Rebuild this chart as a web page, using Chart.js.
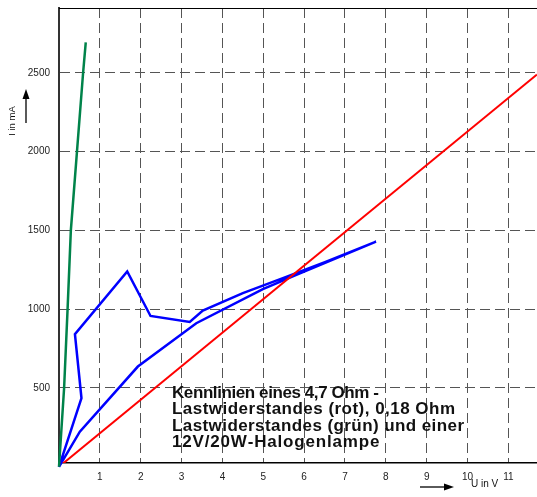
<!DOCTYPE html>
<html>
<head>
<meta charset="utf-8">
<script src="https://cdn.jsdelivr.net/npm/chart.js@4/dist/chart.umd.min.js"></script>
<style>
  html, body { margin: 0; padding: 0; background: #fff; }
  #wrap { width: 537px; height: 497px; position: relative; }
</style>
</head>
<body>
<div id="wrap"><canvas id="chart"></canvas></div>
<script>
// tick labels
const xTicks = [1, 2, 3, 4, 5, 6, 7, 8, 9, 10, 11];
const yTicks = [500, 1000, 1500, 2000, 2500];

// 4,7 Ohm load resistor (red)
const redU = [0, 11.7];
const redI = [0, 2489];

// 0,18 Ohm load resistor (green)
const greenU = [0, 0.125, 0.21, 0.29, 0.44, 0.59, 0.655];
const greenI = [0, 500, 1000, 1500, 2000, 2500, 2693];

// 12V/20W halogen lamp (blue), up and back down
const lampU = [0, 0.55, 0.39, 1.67, 2.24, 3.20, 3.52, 4.50, 5.48, 6.54, 7.76, 5.81, 4.99, 3.36, 1.93, 0.51, 0];
const lampI = [0, 435, 841, 1239, 957, 919, 991, 1102, 1197, 1302, 1429, 1218, 1127, 911, 636, 223, 0];

const noteLines = [
  "Kennlinien eines 4,7 Ohm -",
  "Lastwiderstandes (rot), 0,18 Ohm",
  "Lastwiderstandes (grün) und einer",
  "12V/20W-Halogenlampe"
];
const noteWidths = [207, 283, 292, 207];

const FONT = "'Liberation Sans', Arial, Helvetica, sans-serif";

function pts(xs, ys) {
  return xs.map((x, i) => ({ x: x, y: ys[i] }));
}

function drawArrow(ctx, x1, y1, x2, y2) {
  const ang = Math.atan2(y2 - y1, x2 - x1);
  const hl = 10, hw = 3.5;
  ctx.beginPath();
  ctx.moveTo(x1, y1);
  ctx.lineTo(x2 - Math.cos(ang) * hl, y2 - Math.sin(ang) * hl);
  ctx.stroke();
  ctx.beginPath();
  ctx.moveTo(x2, y2);
  ctx.lineTo(x2 - Math.cos(ang) * hl - Math.sin(ang) * hw, y2 - Math.sin(ang) * hl + Math.cos(ang) * hw);
  ctx.lineTo(x2 - Math.cos(ang) * hl + Math.sin(ang) * hw, y2 - Math.sin(ang) * hl - Math.cos(ang) * hw);
  ctx.closePath();
  ctx.fill();
}

// fit a text line to the given width by adjusting the letter gap
function spacedText(ctx, text, x, y, width) {
  const plain = ctx.measureText(text).width;
  const gap = (width - plain) / (text.length - 1);
  let cx = x;
  for (const ch of text) {
    ctx.fillText(ch, cx, y);
    cx += ctx.measureText(ch).width + gap;
  }
}

const extras = {
  id: "extras",
  afterDraw(chart) {
    const { ctx, chartArea } = chart;
    ctx.save();
    // top frame line
    ctx.strokeStyle = "#000";
    ctx.lineWidth = 1;
    ctx.beginPath();
    ctx.moveTo(chartArea.left, chartArea.top + 0.5);
    ctx.lineTo(chartArea.right, chartArea.top + 0.5);
    ctx.stroke();

    // axis titles and arrows
    ctx.fillStyle = "#111";
    ctx.strokeStyle = "#000";
    ctx.lineWidth = 1.3;
    ctx.font = "9.5px " + FONT;
    ctx.textAlign = "center";
    ctx.textBaseline = "middle";
    ctx.save();
    ctx.translate(12, 121);
    ctx.rotate(-Math.PI / 2);
    ctx.fillText("I in mA", 0, 0);
    ctx.restore();
    ctx.fillStyle = "#000";
    drawArrow(ctx, 26, 123, 26, 89);

    ctx.fillStyle = "#111";
    ctx.font = "10px " + FONT;
    ctx.textAlign = "left";
    ctx.fillText("U in V", 471, 484);
    ctx.fillStyle = "#000";
    drawArrow(ctx, 420, 487, 454, 487);

    // annotation
    ctx.fillStyle = "#111";
    ctx.font = "bold 17px " + FONT;
    ctx.textBaseline = "alphabetic";
    noteLines.forEach((line, i) => {
      spacedText(ctx, line, 172, 397.5 + i * 16.6, noteWidths[i]);
    });
    ctx.restore();
  }
};

const tickFont = { family: FONT, size: 10 };

function noPad(s) {
  s.paddingTop = 0;
  s.paddingBottom = 0;
  s.paddingLeft = 0;
  s.paddingRight = 0;
}

new Chart(document.getElementById("chart"), {
  type: "scatter",
  data: {
    datasets: [
      { label: "4,7 Ohm", data: pts(redU, redI), borderColor: "#ff0000", borderWidth: 2 },
      { label: "0,18 Ohm", data: pts(greenU, greenI), borderColor: "#00834a", borderWidth: 2.5, clip: false },
      { label: "Halogenlampe", data: pts(lampU, lampI), borderColor: "#0000ff", borderWidth: 2.5, clip: false }
    ].map(d => Object.assign(d, { showLine: true, pointRadius: 0, tension: 0, fill: false }))
  },
  options: {
    responsive: true,
    maintainAspectRatio: false,
    animation: false,
    layout: { padding: { top: 8, right: 0, left: 0, bottom: 0 } },
    plugins: { legend: { display: false }, tooltip: { enabled: false } },
    scales: {
      x: {
        type: "linear",
        min: 0,
        max: 11.7,
        afterBuildTicks: s => { s.ticks = xTicks.map(v => ({ value: v })); },
        afterFit: s => { s.height = 34; noPad(s); },
        ticks: { font: tickFont, color: "#222", padding: 8, maxRotation: 0, callback: v => String(v) },
        grid: { color: "#555", lineWidth: 1, drawTicks: false },
        border: { display: true, color: "#000", width: 1.5, dash: [10, 5] }
      },
      y: {
        type: "linear",
        min: 24,
        max: 2911,
        afterBuildTicks: s => { s.ticks = yTicks.map(v => ({ value: v })); },
        afterFit: s => { s.width = 59; noPad(s); },
        ticks: { font: tickFont, color: "#222", padding: 9, callback: v => String(v) },
        grid: { color: "#555", lineWidth: 1, drawTicks: false },
        border: { display: true, color: "#333", width: 2, dash: [10, 5] }
      }
    }
  },
  plugins: [extras]
});
</script>
</body>
</html>
